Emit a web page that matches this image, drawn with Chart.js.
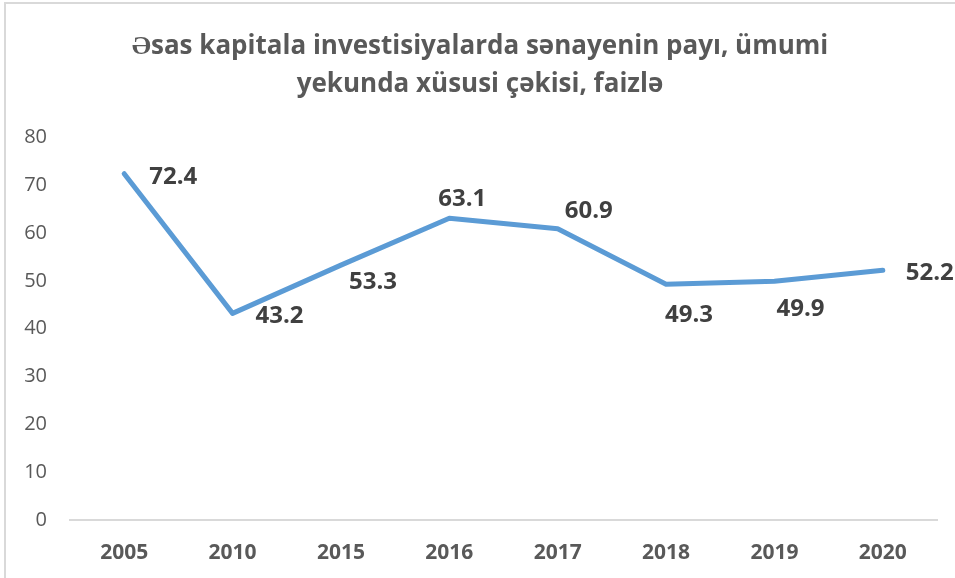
<!DOCTYPE html>
<html>
<head>
<meta charset="utf-8">
<script src="https://cdn.jsdelivr.net/npm/chart.js@4/dist/chart.umd.min.js"></script>
<style>
  html, body { margin: 0; padding: 0; background: #ffffff; }
  #wrap { position: relative; width: 955px; height: 578px; overflow: hidden; }
  #frame { position: absolute; left: 4px; top: 2px; width: 1000px; height: 700px; border: 2px solid #d9d9d9; box-sizing: border-box; }
  canvas { position: absolute; left: 0; top: 0; }
</style>
</head>
<body>
<div id="wrap">
  <div id="frame"></div>
  <canvas id="c" width="955" height="578"></canvas>
</div>
<script>
const titleLines = ["Əsas kapitala investisiyalarda sənayenin payı, ümumi", "yekunda xüsusi çəkisi, faizlə"];
const categories = ["2005", "2010", "2015", "2016", "2017", "2018", "2019", "2020"];
const values = [72.4, 43.2, 53.3, 63.1, 60.9, 49.3, 49.9, 52.2];
const yTicks = [0, 10, 20, 30, 40, 50, 60, 70, 80];
// label offsets relative to each point (dx, dy in px)
const labelOffsets = [[49, 3.5], [47, 3], [32, 17], [13, -19], [31, -18], [23, 31], [26, 28], [47, 3]];

const labelPlugin = {
  id: 'pointLabels',
  afterLayout(chart) {
    // shift the title centre slightly to the right, as in the original
    chart.titleBlock.left = 23;
  },
  afterDatasetsDraw(chart) {
    const ctx = chart.ctx;
    const meta = chart.getDatasetMeta(0);
    ctx.save();
    ctx.font = 'bold 24px "Open Sans"';
    ctx.fillStyle = '#404040';
    ctx.textAlign = 'center';
    ctx.textBaseline = 'middle';
    meta.data.forEach((pt, i) => {
      const off = labelOffsets[i];
      ctx.fillText(values[i].toFixed(1), pt.x + off[0], pt.y + off[1]);
    });
    ctx.restore();
  }
};

new Chart(document.getElementById('c'), {
  type: 'line',
  data: {
    labels: categories,
    datasets: [{
      data: values,
      borderColor: '#5b9bd5',
      borderWidth: 5,
      pointRadius: 0,
      tension: 0,
      borderCapStyle: 'round',
      borderJoinStyle: 'round',
      fill: false
    }]
  },
  options: {
    responsive: false,
    animation: false,
    layout: { padding: { left: 0, right: 18, top: 0, bottom: 0 } },
    plugins: {
      legend: { display: false },
      tooltip: { enabled: false },
      title: {
        display: true,
        text: titleLines,
        color: '#595959',
        font: { family: 'Open Sans', size: 26, weight: 'bold', lineHeight: 38 / 26 },
        padding: { top: 27.6, bottom: 33.8 }
      }
    },
    scales: {
      x: {
        offset: true,
        grid: { display: false, drawTicks: false },
        border: { display: true, color: '#d9d9d9', width: 2 },
        ticks: { color: '#595959', font: { family: 'Open Sans', size: 21, weight: 'bold' }, padding: 20, maxRotation: 0 },
        afterFit(s) { s.height = 58; }
      },
      y: {
        min: 0, max: 80,
        afterBuildTicks(s) { s.ticks = yTicks.map(v => ({ value: v })); },
        grid: { display: false, drawTicks: false },
        border: { display: false },
        ticks: { color: '#595959', font: { family: 'Open Sans', size: 20 }, padding: 23 },
        afterFit(s) { s.width = 70; }
      }
    }
  },
  plugins: [labelPlugin]
});
</script>
</body>
</html>
